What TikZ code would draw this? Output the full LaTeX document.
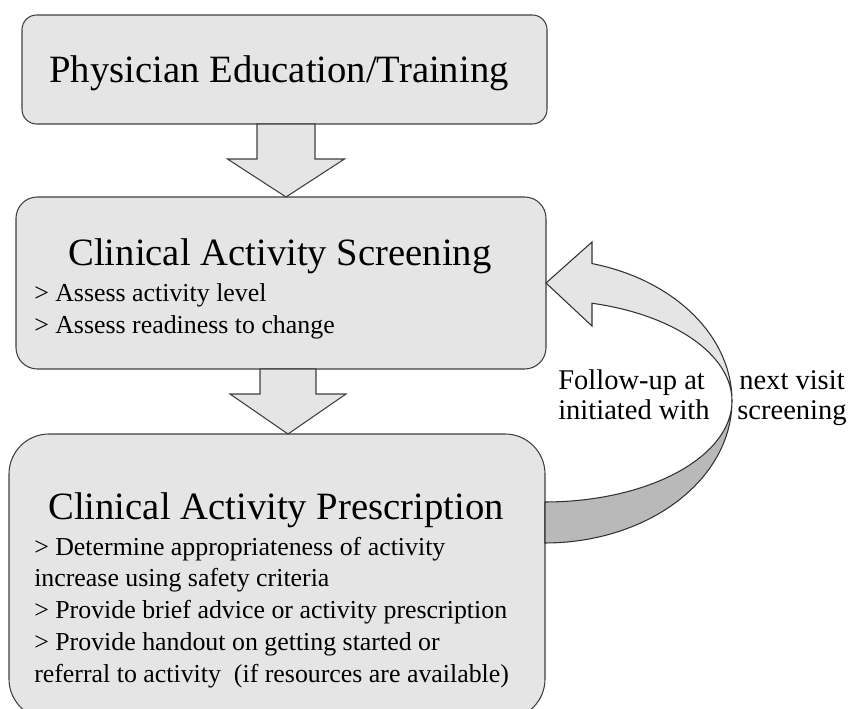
\documentclass[tikz,border=0pt]{standalone}
\usepackage{fontspec}
\setmainfont{Liberation Serif}

\begin{document}
\begin{tikzpicture}[x=0.75pt,y=-0.75pt,
    box/.style={draw=black!75,fill=gray!20,line width=0.8pt,inner sep=0pt,outer sep=0pt},
    title/.style={font=\fontsize{29}{34}\selectfont,anchor=base,inner sep=0pt},
    items/.style={font=\fontsize{19.4}{23.8}\selectfont,align=left,anchor=base west,inner sep=0pt},
    lbl/.style={font=\fontsize{21.4}{21.8}\selectfont,inner sep=0pt},
    blockarrow/.style={draw=black!75,fill=gray!20,line width=0.8pt,line join=miter},
    ribbonfront/.style={draw=black!80,fill=gray!20,line width=0.8pt},
    ribbonback/.style={draw=black!80,fill=gray!55,line width=0.8pt}]
    \useasboundingbox (0,0) rectangle (853,709);

    % boxes
    \node[box,rounded corners=11pt,minimum width=393.75pt,minimum height=81.75pt] (edu) at (284.5,69.5) {};
    \node[box,rounded corners=16pt,minimum width=397.5pt,minimum height=129pt] (scr) at (281,283) {};
    \node[box,rounded corners=30pt,minimum width=402pt,minimum height=213.75pt] (rx) at (277,576.5) {};

    % texts (base of a multi-line node = its last line)
    \node[title] (eduT) at (279,83) {Physician Education/Training};
    \node[title] (scrT) at (280,266) {Clinical Activity Screening};
    \node[items] (scrL) at (34,333) {> Assess activity level\\> Assess readiness to change};
    \node[title] (rxT) at (276,519) {Clinical Activity Prescription};
    \node[items] (rxL) at (34,682) {> Determine appropriateness of activity\\increase using safety criteria\\> Provide brief advice or activity prescription\\> Provide handout on getting started or\\referral to activity~ (if resources are available)};

    % block arrows
    \coordinate (e1) at (286,124);
    \coordinate (s1) at (286,197);
    \draw[blockarrow] (e1) ++(-29,0) -- ++(0,35) -- ++(-29.5,0) -- (s1) -- ++(58.5,-38) -- ++(-29.5,0) -- ++(0,-35) -- cycle;
    \coordinate (e2) at (288,369);
    \coordinate (s2) at (288,434);
    \draw[blockarrow] (e2) ++(-28,0) -- ++(0,25) -- ++(-30,0) -- (s2) -- ++(58,-40) -- ++(-30,0) -- ++(0,-25) -- cycle;

    % follow-up ribbon
    \filldraw[ribbonback] plot[domain=0:90,samples=40] ({545+187*cos(\x)},{401+142*sin(\x)})
        -- plot[domain=90:0,samples=40] ({545+187*cos(\x)},{401+101*sin(\x)}) -- cycle;
    \filldraw[ribbonfront] plot[domain=-75.44:0,samples=40] ({545+187*cos(\x)},{401+142*sin(\x)})
        -- plot[domain=0:-75.44,samples=40] ({545+187*cos(\x)},{401+101*sin(\x)})
        -- (592,326) -- (scr.east) -- (592,242) -- cycle;

    \node[lbl,align=left,anchor=base west] (lblL) at (558,419) {Follow-up at\\initiated with};
    \node[lbl,align=center,anchor=base] (lblR) at (792,419) {next visit\\screening};
\end{tikzpicture}
\end{document}
